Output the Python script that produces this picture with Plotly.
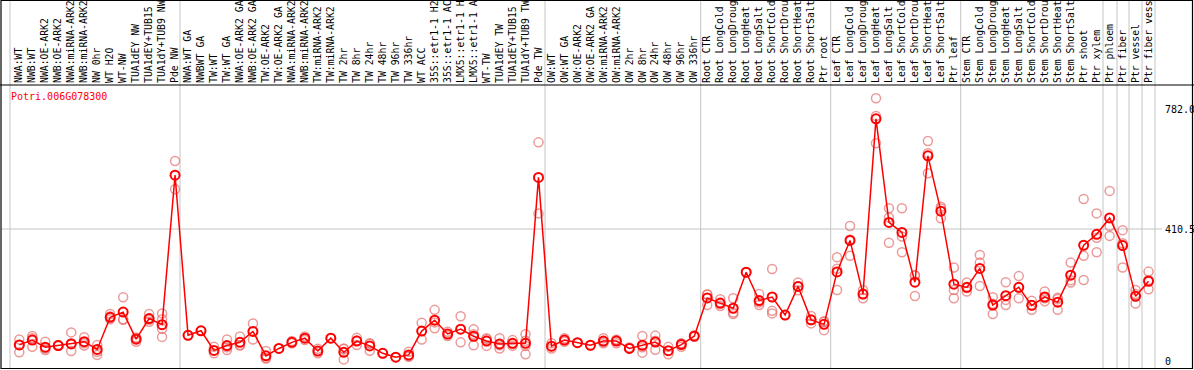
import plotly.graph_objects as go

categories = [
    "NWA:WT", "NWB:WT", "NWA:OE-ARK2", "NWB:OE-ARK2", "NWA:miRNA-ARK2", "NWB:miRNA-ARK2",
    "NW 0hr", "WT H2O", "WT-NW", "TUA1dEY NW", "TUA1dEY+TUB15 NW", "TUA1dY+TUB9 NW", "Pde NW",
    "NWA:WT GA", "NWBWT GA", "TW:WT", "TW:WT GA", "NWA:OE-ARK2 GA", "NWB:OE-ARK2 GA",
    "TW:OE-ARK2", "TW:OE-ARK2 GA", "NWA:miRNA-ARK2 GA", "NWB:miRNA-ARK2 GA", "TW:miRNA-ARK2",
    "TW:miRNA-ARK2 GA", "TW 2hr", "TW 8hr", "TW 24hr", "TW 48hr", "TW 96hr", "TW 336hr",
    "WT ACC", "35S::etr1-1 H2O", "35S::etr1-1 ACC", "LMX5::etr1-1 H2O", "LMX5::etr1-1 ACC",
    "WT-TW", "TUA1dEY TW", "TUA1dEY+TUB15 TW", "TUA1dY+TUB9 TW", "Pde TW",
    "OW:WT", "OW:WT GA", "OW:OE-ARK2", "OW:OE-ARK2 GA", "OW:miRNA-ARK2", "OW:miRNA-ARK2 GA",
    "OW 2hr", "OW 8hr", "OW 24hr", "OW 48hr", "OW 96hr", "OW 336hr",
    "Root CTR", "Root LongCold", "Root LongDrought", "Root LongHeat", "Root LongSalt",
    "Root ShortCold", "Root ShortDrought", "Root ShortHeat", "Root ShortSalt", "Ptr root",
    "Leaf CTR", "Leaf LongCold", "Leaf LongDrought", "Leaf LongHeat", "Leaf LongSalt",
    "Leaf ShortCold", "Leaf ShortDrought", "Leaf ShortHeat", "Leaf ShortSalt", "Ptr leaf",
    "Stem CTR", "Stem LongCold", "Stem LongDrought", "Stem LongHeat", "Stem LongSalt",
    "Stem ShortCold", "Stem ShortDrought", "Stem ShortHeat", "Stem ShortSalt", "Ptr shoot",
    "Ptr xylem", "Ptr phloem", "Ptr fiber", "Ptr vessel", "Ptr fiber vessel",
]

mean_values = [
    50, 65, 43, 48, 53, 60, 36, 136, 152, 68, 132, 113, 578,
    80, 94, 33, 48, 58, 92, 16, 39, 58, 71, 31, 71, 27, 62, 47, 24, 12, 19,
    93, 127, 84, 99, 77, 62, 53, 55, 55, 571,
    46, 65, 57, 49, 62, 62, 39, 49, 59, 32, 51, 77,
    196, 180, 164, 276, 188, 199, 143, 232, 128, 114,
    277, 375, 208, 753, 431, 400, 245, 638, 466, 239,
    229, 288, 174, 203, 229, 173, 199, 183, 267, 360,
    394, 445, 359, 201, 248,
]

replicates = [
    [67, 50, 27], [78, 71, 44], [60, 34, 39], [50, 47, 48], [89, 55, 31], [74, 55, 48],
    [50, 29, 19], [146, 130, 138], [198, 128, 130], [71, 60, 73], [146, 122, 128],
    [148, 130, 100, 75], [622, 534],
    [80], [94], [44, 24], [67, 34, 43], [76, 50, 48], [117, 67], [31, 8, 9], [39],
    [62, 55], [76, 65], [38, 24], [71], [39, 5, 37], [72, 50, 64], [55, 32, 54], [24],
    [12], [29, 13, 15], [119, 67], [159, 102, 120], [91, 78], [139, 58], [99, 49, 83],
    [71, 47, 68], [71, 39, 49], [65, 47, 53], [83, 63, 47, 21], [680, 459],
    [55, 46, 39], [71, 60], [57], [49], [71, 55, 60], [65, 55, 66], [39, 42],
    [78, 26, 43], [79, 35, 63], [44, 21], [55, 44, 54], [77, 80],
    [207, 174, 207], [192, 171, 177], [195, 146, 151], [276], [208, 174, 182],
    [286, 156, 148], [143], [244, 232, 220], [140, 117, 127], [124, 96, 122],
    [323, 221, 287], [420, 327, 378], [221, 195, 208], [817, 762, 677], [475, 446, 368],
    [475, 387, 338], [267, 202, 266], [684, 646, 584], [480, 444, 474], [291, 221, 195],
    [244, 216, 227], [330, 306, 233], [198, 146, 178], [245, 174, 190], [264, 195, 228],
    [187, 159, 173], [216, 195, 186], [193, 159, 197], [306, 244, 251], [504, 327, 252],
    [459, 383, 338], [529, 420, 389], [407, 366, 291], [221, 179, 208], [278, 252, 223],
]

y_tick_vals = [0, 410.5, 782.0]
y_tick_text = ["0", "410.5", "782.0"]
gene_name = "Potri.006G078300"

# ---- layout geometry (pixels) ----
W, H = 1194, 370
SEP = 85          # separator line between label band and plot
TOP = 84          # top of the plotting area (labels sit above it)
X0PX, XSTEP = 19.3, 12.98
Y0PX, GRIDPX = 361.0, 229.0
YSCALE = 410.5 / (Y0PX - GRIDPX)


def px_to_x(p):
    return (p - X0PX) / XSTEP


def py_to_v(p):
    return (Y0PX - p) * YSCALE


def py_paper(p):
    return (H - p) / (H - TOP)


xs = list(range(len(categories)))
rep_x, rep_y = [], []
for i, reps in enumerate(replicates):
    for r in reps:
        rep_x.append(i)
        rep_y.append(r)

fig = go.Figure()
fig.add_trace(go.Scatter(
    x=rep_x, y=rep_y, mode="markers",
    marker=dict(symbol="circle-open", size=9, color="rgba(228,110,110,0.7)",
                line=dict(width=1.5)),
    hoverinfo="skip",
))
fig.add_trace(go.Scatter(
    x=xs, y=mean_values, mode="lines+markers",
    line=dict(color="#ff0000", width=1.5),
    marker=dict(symbol="circle-open", size=9, color="#ff0000", line=dict(width=2)),
))

shapes = []
gray = "#c4c4c4"
for px in [10, 180, 545, 700.7, 830.7, 960.7, 1103, 1117, 1129, 1142, 1155]:
    shapes.append(dict(type="line", xref="x", yref="paper",
                       x0=px_to_x(px), x1=px_to_x(px), y0=py_paper(368), y1=py_paper(0),
                       line=dict(color=gray, width=1), layer="below"))
shapes.append(dict(type="line", xref="paper", yref="y",
                   x0=1 / W, x1=1162 / W, y0=410.5, y1=410.5,
                   line=dict(color=gray, width=1), layer="below"))
# frame and separator
shapes.append(dict(type="rect", xref="paper", yref="paper",
                   x0=1 / W, x1=1192.5 / W, y0=py_paper(368.5), y1=py_paper(0.5),
                   line=dict(color="black", width=1.2)))
shapes.append(dict(type="line", xref="paper", yref="paper",
                   x0=0, x1=1, y0=py_paper(SEP), y1=py_paper(SEP),
                   line=dict(color="black", width=1.2)))

mono = "DejaVu Sans Mono"
fig.update_layout(
    width=W, height=H,
    margin=dict(l=0, r=0, t=TOP, b=0, pad=0),
    paper_bgcolor="white", plot_bgcolor="white",
    showlegend=False,
    shapes=shapes,
    xaxis=dict(
        range=[px_to_x(0), px_to_x(W)], side="top",
        tickmode="array", tickvals=xs, ticktext=categories,
        tickangle=-90, tickfont=dict(family=mono, size=9.8, color="black"),
        showgrid=False, zeroline=False, showline=False, ticks="",
        ticklabeloverflow="allow",
        automargin=False,
    ),
    yaxis=dict(
        range=[py_to_v(H), py_to_v(TOP)], side="left",
        anchor="free", position=1161 / W,
        tickmode="array", tickvals=y_tick_vals, ticktext=y_tick_text,
        ticklabelposition="inside", ticklabeloverflow="allow",
        tickfont=dict(family=mono, size=10, color="black"),
        showgrid=False, zeroline=False, showline=False, ticks="",
        automargin=False,
    ),
    annotations=[dict(
        text=gene_name, xref="paper", yref="paper",
        x=9 / W, y=py_paper(97), xanchor="left", yanchor="middle",
        showarrow=False, font=dict(family=mono, size=10, color="#ff0000"),
    )],
)

fig.write_html(
    "out.html",
    config={"displayModeBar": False},
    post_script="document.body.style.margin='0';document.body.style.overflow='hidden';",
)
